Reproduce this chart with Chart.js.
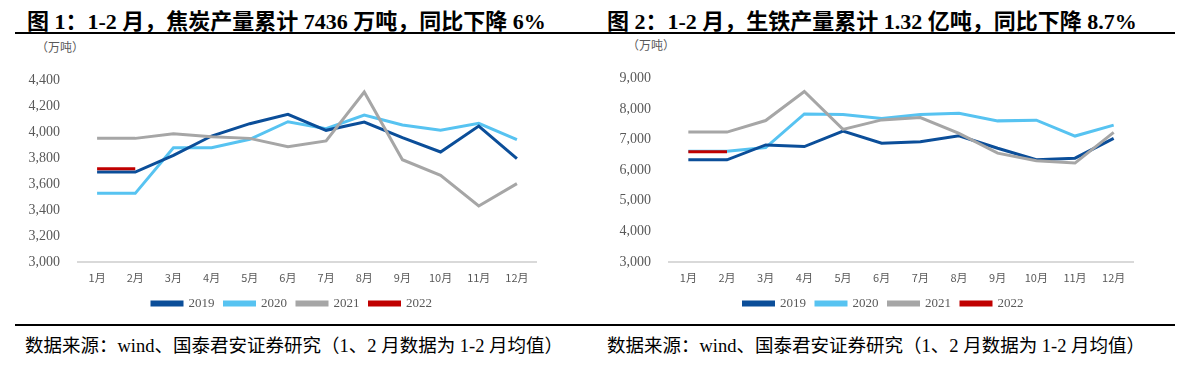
<!DOCTYPE html>
<html lang="zh">
<head>
    <meta charset="UTF-8">
    <title>焦炭与生铁产量</title>
    <script src="https://cdn.jsdelivr.net/npm/chart.js"></script>
    <style>
        body {
            margin: 0;
            width: 1192px;
            height: 391px;
            background: #fff;
            position: relative;
            overflow: hidden;
            font-family: "Liberation Serif", "Noto Sans CJK SC", serif;
        }
        .title {
            position: absolute;
            top: 3px;
            font-size: 22px;
            font-weight: bold;
            color: #000;
            white-space: nowrap;
        }
        .rule {
            position: absolute;
            height: 2px;
            background: #000;
        }
        .unit {
            position: absolute;
            font-size: 12px;
            color: #595959;
            font-family: "Noto Sans CJK SC", sans-serif;
        }
        .source {
            position: absolute;
            top: 331px;
            font-size: 18.5px;
            color: #000;
            white-space: nowrap;
        }
        .box {
            position: absolute;
            top: 60px;
            height: 260px;
        }
    </style>
</head>
<body>
    <div class="title" style="left:27px">图 1：1-2 月，焦炭产量累计 7436 万吨，同比下降 6%</div>
    <div class="title" style="left:607px">图 2：1-2 月，生铁产量累计 1.32 亿吨，同比下降 8.7%</div>
    <div class="rule" style="left:15px; width:585px; top:32px"></div>
    <div class="rule" style="left:600px; width:575px; top:32px"></div>
    <div class="unit" style="left:36px; top:38px">（万吨）</div>
    <div class="unit" style="left:627px; top:36px">（万吨）</div>

    <div class="box" style="left:0px; width:575px"><canvas id="cokeChart"></canvas></div>
    <div class="box" style="left:590px; width:565px"><canvas id="ironChart"></canvas></div>

    <div class="rule" style="left:15px; width:585px; top:324px"></div>
    <div class="rule" style="left:600px; width:575px; top:324px"></div>
    <div class="source" style="left:25px">数据来源：wind、国泰君安证券研究（1、2 月数据为 1-2 月均值）</div>
    <div class="source" style="left:607px">数据来源：wind、国泰君安证券研究（1、2 月数据为 1-2 月均值）</div>

    <script>
        const months = ['1月', '2月', '3月', '4月', '5月', '6月', '7月', '8月', '9月', '10月', '11月', '12月'];
        const years = ['2019', '2020', '2021', '2022'];
        const colors = ['#0b4e99', '#57c3f1', '#a6a6a6', '#c00000'];

        // 焦炭产量（万吨）
        const coke2019 = [3692, 3692, 3820, 3969, 4064, 4136, 4013, 4077, 3956, 3846, 4046, 3795];
        const coke2020 = [3528, 3528, 3879, 3879, 3944, 4079, 4026, 4131, 4054, 4013, 4067, 3941];
        const coke2021 = [3951, 3951, 3987, 3964, 3951, 3887, 3931, 4308, 3787, 3667, 3431, 3603];
        const coke2022 = [3718, 3718];

        // 生铁产量（万吨）
        const iron2019 = [6340, 6340, 6825, 6772, 7278, 6879, 6933, 7127, 6718, 6341, 6394, 7041];
        const iron2020 = [6620, 6620, 6739, 7838, 7817, 7688, 7817, 7860, 7612, 7634, 7116, 7472];
        const iron2021 = [7246, 7246, 7623, 8571, 7332, 7644, 7720, 7203, 6556, 6308, 6233, 7235];
        const iron2022 = [6600, 6600];

        // draw order: 2020 at the back, red 2022 on top
        const drawOrder = [2, 3, 1, 0];

        function makeChart(id, series, yMin, yMax, yStep, axisWidth, padTop, padRight, legendDx) {
            const datasets = series.map((data, i) => ({
                label: years[i],
                data: data,
                borderColor: colors[i],
                backgroundColor: colors[i],
                borderWidth: 3,
                pointRadius: 0,
                tension: 0,
                order: drawOrder[i]
            }));

            // nudge the legend sideways after layout
            const legendShift = {
                id: 'legendShift',
                afterLayout(chart) {
                    chart.legend.left += legendDx;
                    chart.legend.right += legendDx;
                }
            };

            new Chart(document.getElementById(id), {
                type: 'line',
                data: { labels: months, datasets: datasets },
                plugins: [legendShift],
                options: {
                    responsive: true,
                    maintainAspectRatio: false,
                    animation: false,
                    layout: { padding: { top: padTop, right: padRight, left: 0, bottom: 0 } },
                    plugins: {
                        tooltip: { enabled: false },
                        legend: {
                            position: 'bottom',
                            labels: {
                                boxWidth: 30,
                                boxHeight: 3,
                                padding: 10,
                                color: '#595959',
                                font: { family: '"Liberation Serif", serif', size: 13 },
                                sort: (a, b) => a.datasetIndex - b.datasetIndex
                            }
                        }
                    },
                    scales: {
                        x: {
                            offset: true,
                            grid: { display: false },
                            border: { display: true, color: '#d9d9d9', width: 2 },
                            ticks: {
                                color: '#595959',
                                padding: 1,
                                maxRotation: 0,
                                font: { family: '"Noto Sans CJK SC", sans-serif', size: 11 }
                            },
                            afterFit: s => { s.height = 25; }
                        },
                        y: {
                            min: yMin,
                            max: yMax,
                            grid: { display: false },
                            border: { display: false },
                            ticks: {
                                stepSize: yStep,
                                color: '#595959',
                                padding: 10,
                                font: { family: '"Liberation Serif", serif', size: 14 },
                                callback: v => v.toLocaleString('en-US')
                            },
                            afterFit: s => { s.width = axisWidth; }
                        }
                    }
                }
            });
        }

        makeChart('cokeChart', [coke2019, coke2020, coke2021, coke2022], 3000, 4400, 200, 78, 20, 39, 24);
        makeChart('ironChart', [iron2019, iron2020, iron2021, iron2022], 3000, 9000, 1000, 79, 16, 22, 22);
    </script>
</body>
</html>
